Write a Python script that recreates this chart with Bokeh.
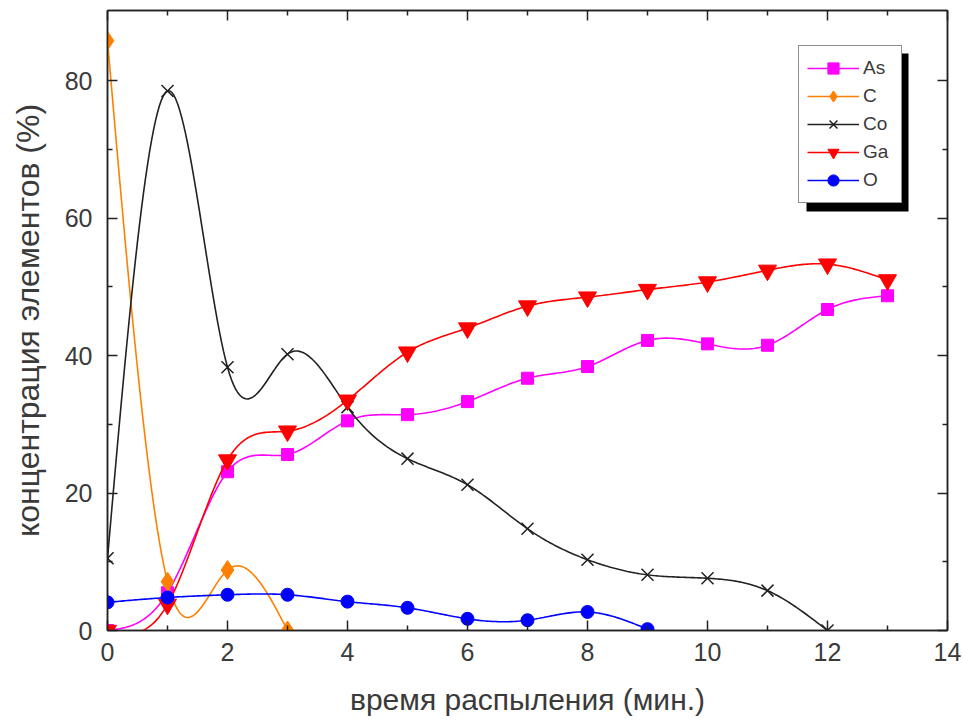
import numpy as np
from bokeh.plotting import figure
from bokeh.models import (Range1d, LinearAxis, Legend, LegendItem, BoxAnnotation,
                          FixedTicker, CustomJSTickFormatter)
from bokeh.embed import file_html
from bokeh.resources import INLINE

# ---- data ----
t_as = [0, 1, 2, 3, 4, 5, 6, 7, 8, 9, 10, 11, 12, 13]
v_as = [0.0, 5.5, 23.1, 25.6, 30.5, 31.4, 33.3, 36.7, 38.4, 42.2, 41.7, 41.5, 46.7, 48.7]

t_c = [0, 1, 2, 3]
v_c = [85.8, 7.1, 8.8, 0.0]

t_co = [0, 1, 2, 3, 4, 5, 6, 7, 8, 9, 10, 11, 12]
v_co = [10.5, 78.5, 38.3, 40.2, 32.5, 25.0, 21.2, 14.8, 10.3, 8.1, 7.6, 5.8, 0.0]

t_ga = [0, 1, 2, 3, 4, 5, 6, 7, 8, 9, 10, 11, 12, 13]
v_ga = [0.0, 3.8, 24.8, 29.0, 33.5, 40.5, 44.0, 47.2, 48.5, 49.6, 50.7, 52.4, 53.3, 51.0]

t_o = [0, 1, 2, 3, 4, 5, 6, 7, 8, 9]
v_o = [4.1, 4.8, 5.2, 5.2, 4.2, 3.3, 1.7, 1.5, 2.7, 0.2]

names = ["As", "C", "Co", "Ga", "O"]
colors = ["#ff00ff", "#ff8000", "#222222", "#ff0000", "#0000ff"]
markers = ["square", "diamond", "x", "inverted_triangle", "circle"]
msizes = [12, 19, 17, 18, 13]

x_ticks = [0, 2, 4, 6, 8, 10, 12, 14]
x_minor = [1, 3, 5, 7, 9, 11, 13]
y_ticks = [0, 20, 40, 60, 80]
y_minor = [10, 30, 50, 70]


def natural_spline(x, y, n=30):
    x = np.asarray(x, float)
    y = np.asarray(y, float)
    k = len(x)
    h = np.diff(x)
    A = np.zeros((k, k))
    b = np.zeros(k)
    A[0, 0] = 1
    A[-1, -1] = 1
    for i in range(1, k - 1):
        A[i, i - 1] = h[i - 1]
        A[i, i] = 2 * (h[i - 1] + h[i])
        A[i, i + 1] = h[i]
        b[i] = 6 * ((y[i + 1] - y[i]) / h[i] - (y[i] - y[i - 1]) / h[i - 1])
    M = np.linalg.solve(A, b)
    xs, ys = [], []
    for i in range(k - 1):
        tt = np.linspace(x[i], x[i + 1], n, endpoint=(i == k - 2))
        a = (x[i + 1] - tt) / h[i]
        c = (tt - x[i]) / h[i]
        yy = (a * y[i] + c * y[i + 1]
              + ((a ** 3 - a) * M[i] + (c ** 3 - c) * M[i + 1]) * h[i] ** 2 / 6)
        xs.extend(tt)
        ys.extend(yy)
    return xs, ys


p = figure(width=963, height=720, output_backend="svg", toolbar_location=None,
           x_range=Range1d(0, 14), y_range=Range1d(0, 90.2),
           min_border_left=107, min_border_right=16, min_border_top=10, min_border_bottom=90)
p.background_fill_color = "white"
p.border_fill_color = "white"
p.outline_line_color = "#222222"
p.outline_line_width = 1.5
p.xgrid.visible = False
p.ygrid.visible = False

TXT = "#3a3a3a"
FONT = "Liberation Sans"


def style_ticks(ax):
    ax.axis_line_color = "#222222"
    ax.axis_line_width = 1.5
    ax.major_tick_in = 10
    ax.major_tick_out = 0
    ax.minor_tick_in = 5
    ax.minor_tick_out = 0
    ax.major_tick_line_color = "#222222"
    ax.minor_tick_line_color = "#222222"
    ax.major_tick_line_width = 1.5
    ax.minor_tick_line_width = 1.5


for ax in [p.xaxis[0], p.yaxis[0]]:
    style_ticks(ax)
    ax.major_label_text_font = FONT
    ax.major_label_text_font_size = "25px"
    ax.major_label_text_color = TXT
    ax.axis_label_text_font = FONT
    ax.axis_label_text_font_style = "normal"
    ax.axis_label_text_color = TXT

p.xaxis[0].ticker = FixedTicker(ticks=x_ticks, minor_ticks=x_minor)
p.yaxis[0].ticker = FixedTicker(ticks=y_ticks, minor_ticks=y_minor)
p.xaxis[0].axis_label = "время распыления (мин.)"
p.yaxis[0].axis_label = "концентрация элементов (%)"
p.xaxis[0].axis_label_text_font_size = "30px"
p.yaxis[0].axis_label_text_font_size = "32px"
p.xaxis[0].major_label_standoff = 12
p.yaxis[0].major_label_standoff = 15
p.xaxis[0].axis_label_standoff = 19
p.yaxis[0].axis_label_standoff = 16

# mirrored axes (ticks only)
blank = CustomJSTickFormatter(code="return ''")
top = LinearAxis(ticker=FixedTicker(ticks=x_ticks, minor_ticks=x_minor), formatter=blank)
right = LinearAxis(ticker=FixedTicker(ticks=y_ticks, minor_ticks=y_minor), formatter=blank)
for ax in [top, right]:
    style_ticks(ax)
    ax.major_label_standoff = 0
    ax.major_label_text_font_size = "1px"
p.add_layout(top, "above")
p.add_layout(right, "right")

series = [(t_as, v_as), (t_c, v_c), (t_co, v_co), (t_ga, v_ga), (t_o, v_o)]
items = []
for (tx, vy), nm, col, mk, ms in zip(series, names, colors, markers, msizes):
    sx, sy = natural_spline(tx, vy)
    lr = p.line(sx, sy, line_color=col, line_width=1.6)
    if mk == "x":
        sr = p.scatter(tx, vy, marker=mk, size=ms, line_color=col, line_width=1.5)
    else:
        sr = p.scatter(tx, vy, marker=mk, size=ms, fill_color=col, line_color=col)
    items.append(LegendItem(label=nm, renderers=[lr, sr]))

shadow = BoxAnnotation(left=806, right=908, top=53, bottom=211,
                       left_units="canvas", right_units="canvas",
                       top_units="canvas", bottom_units="canvas",
                       fill_color="black", fill_alpha=1.0, line_color=None)
p.add_layout(shadow)

legend = Legend(items=items, location=(691, 427))
legend.background_fill_color = "white"
legend.background_fill_alpha = 1.0
legend.border_line_color = "#222222"
legend.border_line_width = 1.5
legend.padding = 8
legend.margin = 0
legend.spacing = 0
legend.glyph_width = 52
legend.glyph_height = 28
legend.label_height = 28
legend.label_width = 30
legend.label_standoff = 4
legend.label_text_font = FONT
legend.label_text_font_size = "19px"
legend.label_text_color = TXT
p.add_layout(legend, "center")

open("out.html", "w").write(file_html(p, INLINE))
